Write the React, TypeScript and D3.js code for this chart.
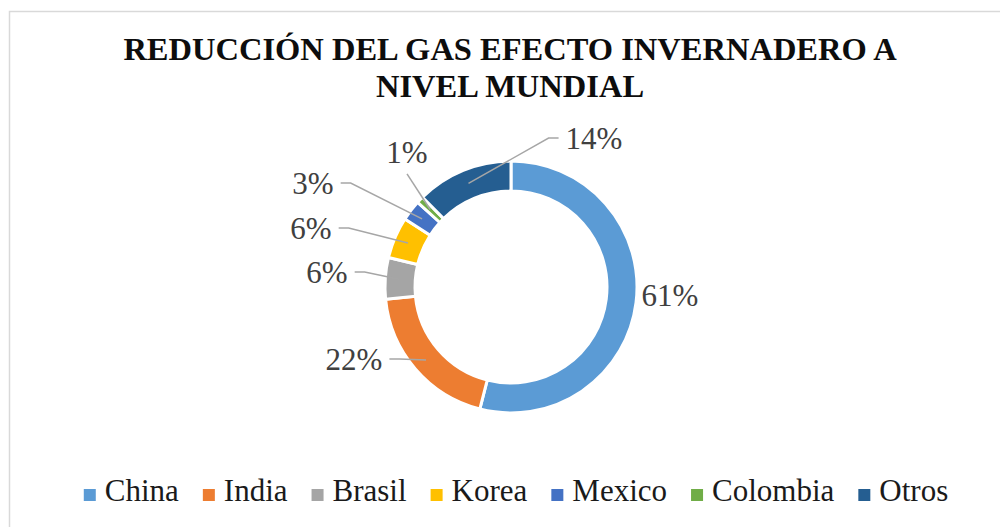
import React, { useEffect, useRef } from "react";
import * as d3 from "d3";

const categories = ["China", "India", "Brasil", "Korea", "Mexico", "Colombia", "Otros"];
const values = [61, 22, 6, 6, 3, 1, 14];
const labels = ["61%", "22%", "6%", "6%", "3%", "1%", "14%"];
const colors = ["#5B9BD5", "#ED7D31", "#A5A5A5", "#FFC000", "#4472C4", "#70AD47", "#255E91"];
const titleLines = ["REDUCCIÓN DEL GAS EFECTO INVERNADERO A", "NIVEL MUNDIAL"];
// layout: label text centre relative to donut centre
const labelOffsets: [number, number][] = [
  [159, 8], [-157, 72], [-184, -15], [-200, -59], [-198, -104], [-104, -135], [83, -149],
];

const W = 1000;
const H = 527;
const CX = 511;
const CY = 287;
const R_OUT = 126;
const R_IN = 96;
const FONT = '"Liberation Serif"';

export default function App() {
  const ref = useRef<SVGSVGElement>(null);

  useEffect(() => {
    const svg = d3.select(ref.current);
    svg.selectAll("*").remove();

    svg.append("rect").attr("x", 0).attr("y", 0).attr("width", W).attr("height", H).attr("fill", "#fff");
    svg.append("rect")
      .attr("x", 9.5).attr("y", 11.5).attr("width", W + 20).attr("height", H + 20)
      .attr("fill", "none").attr("stroke", "#d9d9d9").attr("stroke-width", 1.5);

    // title
    const title = svg.append("text")
      .attr("text-anchor", "middle")
      .style("font-family", FONT)
      .style("font-weight", "bold")
      .style("font-size", "32.5px")
      .attr("fill", "#0d0d0d");
    titleLines.forEach((t, i) => {
      title.append("tspan").attr("x", 510).attr("y", 59.5 + i * 37.5).text(t);
    });

    const pie = d3.pie<number>().value((d) => d).sort(null);
    const arcs = pie(values);
    const arc = d3.arc<d3.PieArcDatum<number>>().innerRadius(R_IN).outerRadius(R_OUT);

    const g = svg.append("g").attr("transform", `translate(${CX},${CY})`);
    g.selectAll("path.slice")
      .data(arcs)
      .join("path")
      .attr("class", "slice")
      .attr("d", arc as any)
      .attr("fill", (_d, i) => colors[i])
      .attr("stroke", "#fff")
      .attr("stroke-width", 3)
      .attr("stroke-linejoin", "round");

    // labels
    const lg = g.append("g");
    arcs.forEach((a, i) => {
      const [ox, oy] = labelOffsets[i];
      const t = lg.append("text")
        .attr("x", ox).attr("y", oy).attr("dy", "0.35em")
        .attr("text-anchor", "middle")
        .style("font-family", FONT)
        .style("font-size", "31px")
        .attr("fill", "#404040")
        .text(labels[i]);
      const bb = (t.node() as SVGTextElement).getBBox();
      const dist = Math.hypot(ox, oy);
      if (dist < 165) return;
      const mid = (a.startAngle + a.endAngle) / 2;
      const rEnd = 112;
      const ax = Math.sin(mid) * rEnd;
      const ay = -Math.cos(mid) * rEnd;
      let pts: [number, number][];
      const dx = ax - ox;
      const dy = ay - oy;
      if (Math.abs(dx) < Math.abs(dy) * 0.6) {
        pts = [[ox, bb.y + bb.height + 4], [ax, ay]];
      } else if (dx > 0) {
        const sx = bb.x + bb.width + 7;
        pts = [[sx, oy], [sx + 10, oy], [ax, ay]];
      } else {
        const sx = bb.x - 7;
        pts = [[sx, oy], [sx - 10, oy], [ax, ay]];
      }
      lg.append("path")
        .attr("d", d3.line()(pts))
        .attr("fill", "none")
        .attr("stroke", "#a6a6a6")
        .attr("stroke-width", 1.5);
    });

    // legend
    const leg = svg.append("g");
    const items: { w: number; g: any }[] = [];
    categories.forEach((c, i) => {
      const ig = leg.append("g");
      ig.append("rect")
        .attr("x", 0).attr("y", -12).attr("width", 12).attr("height", 12)
        .attr("fill", colors[i]);
      const t = ig.append("text")
        .attr("x", 21).attr("y", 0)
        .style("font-family", FONT)
        .style("font-size", "31px")
        .attr("fill", "#1a1a1a")
        .text(c);
      const w = 21 + (t.node() as SVGTextElement).getComputedTextLength();
      items.push({ w, g: ig });
    });
    const gap = 24;
    const total = items.reduce((s, d) => s + d.w, 0) + gap * (items.length - 1);
    let x = 516 - total / 2;
    items.forEach((d) => {
      d.g.attr("transform", `translate(${x},${501})`);
      x += d.w + gap;
    });
  }, []);

  return (
    <svg
      ref={ref}
      width={W}
      height={H}
      style={{ position: "absolute", left: 0, top: 0 }}
    />
  );
}
